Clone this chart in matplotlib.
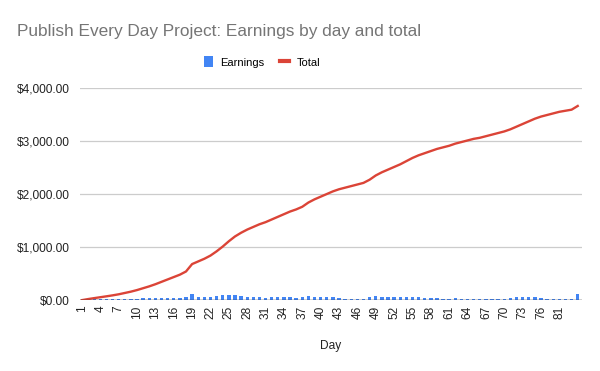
import matplotlib.pyplot as plt
from matplotlib.lines import Line2D
from matplotlib.patches import Patch

days = [str(d) for d in range(1, 79)] + ['81', '82', '83', '84']

earnings = [5, 15, 18, 17, 17, 18, 20, 25, 25, 30,
            35, 35, 40, 45, 45, 45, 45, 60, 110, 50,
            50, 60, 80, 90, 100, 90, 70, 60, 50, 50,
            40, 50, 50, 50, 50, 40, 50, 80, 60, 50,
            50, 50, 40, 30, 30, 30, 30, 60, 70, 60,
            50, 50, 50, 60, 60, 50, 40, 40, 40, 30,
            30, 40, 30, 30, 30, 20, 30, 30, 30, 30,
            40, 50, 50, 50, 50, 40, 30, 30, 30, 30,
            30, 110]

total = [0, 20, 38, 55, 72, 90, 110, 135, 160, 190,
         225, 260, 300, 345, 390, 435, 480, 540, 680, 730,
         780, 840, 920, 1010, 1110, 1200, 1270, 1330, 1380, 1430,
         1470, 1520, 1570, 1620, 1670, 1710, 1760, 1840, 1900, 1950,
         2000, 2050, 2090, 2120, 2150, 2180, 2210, 2270, 2350, 2410,
         2460, 2510, 2560, 2620, 2680, 2730, 2770, 2810, 2850, 2880,
         2910, 2950, 2980, 3010, 3040, 3060, 3090, 3120, 3150, 3180,
         3220, 3270, 3320, 3370, 3420, 3460, 3490, 3520, 3550, 3570,
         3590, 3660]

yticks = [0, 1000, 2000, 3000, 4000]

BLUE = '#4285F4'
RED = '#DB4437'

plt.rcParams['font.family'] = ['Liberation Sans', 'DejaVu Sans']

fig = plt.figure(figsize=(6, 3.71), dpi=100)
ax = fig.add_axes([0.133, 0.191, 0.837, 0.572])

ax.bar(days, earnings, width=0.55, color=BLUE, zorder=2)
ax.plot(days, total, color=RED, linewidth=1.7, zorder=3)

ax.set_ylim(0, 4000)
ax.set_xlim(-0.35, len(days) - 0.3)
ax.set_yticks(yticks)
ax.set_yticklabels(['${:,.2f}'.format(v) for v in yticks])
tick_idx = list(range(0, len(days) - 2, 3))
ax.set_xticks(tick_idx)
ax.set_xticklabels([days[i] for i in tick_idx], rotation=90)
ax.tick_params(axis='both', length=0, labelsize=8.6, colors='#222222')
ax.tick_params(axis='x', pad=4)
ax.tick_params(axis='y', pad=7)

ax.grid(axis='y', color='#cccccc', linewidth=0.9, zorder=0)
ax.axhline(0, color='#333333', linewidth=1.0, zorder=4)
for s in ax.spines.values():
    s.set_visible(False)

ax.set_xlabel('Day', fontsize=8.6, color='#222222', labelpad=15)

fig.text(0.028, 0.915, 'Publish Every Day Project: Earnings by day and total',
         fontsize=12.4, color='#757575', va='center', ha='left')

handles = [Patch(facecolor=BLUE, edgecolor='none'),
           Line2D([0], [0], color=RED, linewidth=3)]
fig.legend(handles, ['Earnings', 'Total'], loc='center', bbox_to_anchor=(0.437, 0.833),
           ncol=2, frameon=False, fontsize=8, handlelength=0.8, handleheight=1.1,
           columnspacing=1.4, handletextpad=0.7)

fig.savefig('out.png', dpi=100)
